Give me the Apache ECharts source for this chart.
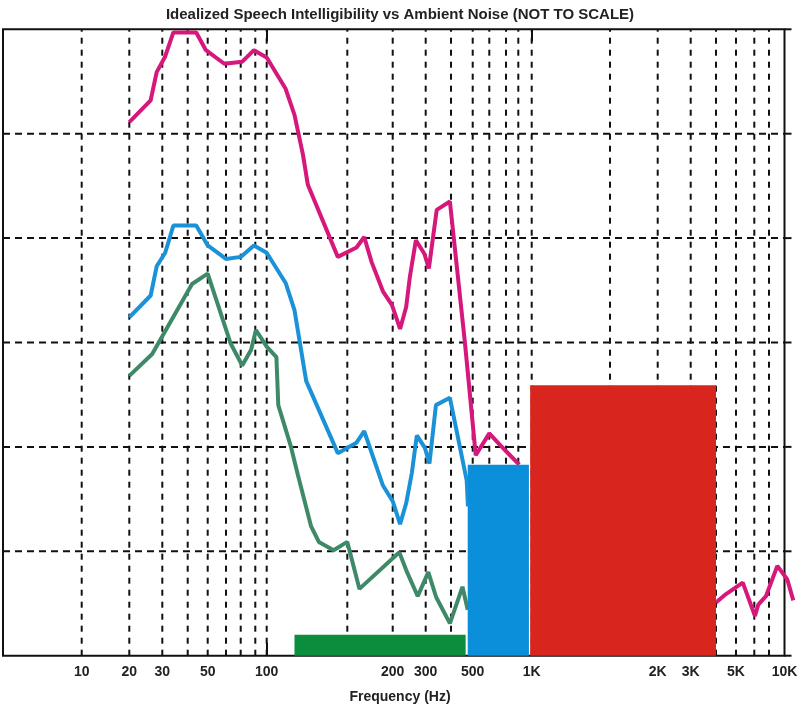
<!DOCTYPE html>
<html><head><meta charset="utf-8">
<script src="https://cdn.jsdelivr.net/npm/echarts@6/dist/echarts.min.js"></script>
<style>html,body{margin:0;padding:0;background:#fff}#c{width:800px;height:706px}</style>
</head><body><div id="c"></div>
<script>
// ---- Not-to-scale frequency axis: frequency stops and the axis units they sit at ----
const scaleFreqs = [10,20,30,40,50,60,70,80,100,150,200,300,400,500,600,700,800,1000,1500,2000,3000,4000,5000,6000,8000,10000];
const scaleUnits = [78.7,126.3,159.3,184.7,204.7,223,237.7,252.3,263.7,344.3,389.7,422.7,448,469.7,486.3,503,515.3,528.7,607,654.7,687.7,713,733,751.3,766,781.5];
const axisUnitMax = 794;      // axis continues a little past 10 kHz (frame ends at 10 kHz)
const frameEndFreq = 10000;

// ---- Grid / ticks ----
const gridFreqs = [10,20,30,40,50,60,70,80,100,150,200,300,400,500,600,700,800,1000,1500,2000,3000,4000,5000,6000,8000];
const gridLevels = [10,20,30,40,50];
const tickLevels = [0,10,20,30,40,50,60];
const tickLabelFreqs = [10,20,30,50,100,200,300,500,1000,2000,3000,5000,10000];
const tickLabels = ['10','20','30','50','100','200','300','500','1K','2K','3K','5K','10K'];
const majorTickFreqs = [100,1000];
const levelMax = 60;

// ---- Data (frequency in Hz, relative level) ----
const pinkLowFreqs = [20,26,28,31,34,44,49,59,71,79,100,110,115,120,123,143,159,167,175,188,199,219,236,247,266,295,311,340,395,462,517,600,662,731,813];
const pinkLowLevels = [51.1,53.2,55.9,57.4,59.7,59.7,58.0,56.7,56.9,58.0,57.3,54.3,51.8,48.0,45.1,38.2,39.1,40.1,37.7,34.9,33.6,31.3,33.4,36.3,39.8,38.5,37.1,42.7,43.5,29.9,19.2,21.3,20.2,19.2,18.3];
const pinkHighFreqs = [4000,4400,5350,6080,6490,7540,9020,10410,11350];
const pinkHighLevels = [5.1,5.8,7.0,3.8,4.9,5.7,8.6,7.3,5.3];

const blueFreqs = [20,26,28,31,34,44,50,60,70,79,100,110,115,122,143,159,167,188,200,219,236,253,269,297,313,337,395,470,476];
const blueLevels = [32.4,34.5,37.3,38.6,41.2,41.2,39.3,38.0,38.2,39.3,38.6,35.7,33.1,26.3,19.4,20.4,21.5,16.3,14.8,12.6,14.6,17.5,21.1,19.9,18.4,24.0,24.7,16.8,14.3];

const greenFreqs = [20,26.5,42,50,63,71,77,81,100,105,106,113,117,125,130,140,150,162,217,236,272,309,338,395,450,475];
const greenLevels = [26.8,28.9,35.6,36.6,29.9,27.8,29.3,31.2,29.6,28.6,24.0,20.0,17.3,12.4,10.9,10.1,10.9,6.4,9.9,8.2,5.7,8.0,5.6,3.1,6.6,4.4];

// Bands: start Hz, end Hz, level
const bandStarts = [115, 475, 975];
const bandEnds = [465, 955, 4000];
const bandLevels = [2.0, 18.3, 25.9];

// ---- Styles ----
const pinkColor = '#d6177b';
const blueColor = '#1b92d8';
const greenLineColor = '#3e8a68';
const bandColors = ['#0a8e3e', '#0b8fdb', '#d8251d'];
const inkColor = '#111';
const font = 'Liberation Sans, Arial, sans-serif';
const lineW = 4;

function fx(f){
  const n = scaleFreqs.length;
  let i = 0;
  if (f <= scaleFreqs[0]) i = 0;
  else if (f >= scaleFreqs[n-1]) i = n-2;
  else { while (f > scaleFreqs[i+1]) i++; }
  const t = Math.log(f/scaleFreqs[i]) / Math.log(scaleFreqs[i+1]/scaleFreqs[i]);
  return scaleUnits[i] + t*(scaleUnits[i+1]-scaleUnits[i]);
}
const pairs = (fs, ls) => fs.map((f,i)=>[fx(f), ls[i]]);
const labelUnits = tickLabelFreqs.map(fx);
function labelFor(v){
  for (let i=0;i<labelUnits.length;i++) if (Math.abs(labelUnits[i]-v) < 0.01) return tickLabels[i];
  return '';
}

const chart = echarts.init(document.getElementById('c'), null, {renderer:'canvas'});
const lineBase = {type:'line', showSymbol:false, symbol:'none', z:3, animation:false, clip:false};

chart.setOption({
  animation:false,
  backgroundColor:'#fff',
  title:{text:'Idealized Speech Intelligibility vs Ambient Noise (NOT TO SCALE)', left:'center', top:2,
    textStyle:{fontSize:15, fontWeight:'bold', color:'#222', fontFamily:font}},
  grid:{left:3, right:800-3-axisUnitMax, top:29.3, bottom:50.3, show:false, containLabel:false, outerBoundsMode:'none'},
  xAxis:[{
    type:'value', min:0, max:axisUnitMax, position:'bottom',
    axisLine:{show:false},
    axisTick:{show:true, inside:true, length:13, customValues: majorTickFreqs.map(fx), lineStyle:{color:inkColor, width:2}},
    axisLabel:{show:true, customValues: labelUnits, formatter: labelFor, fontWeight:'bold', fontSize:14, color:'#222', margin:9, fontFamily:font},
    splitLine:{show:false},
    name:'Frequency (Hz)', nameLocation:'middle', nameGap:34,
    nameTextStyle:{fontWeight:'bold', fontSize:14, color:'#222', fontFamily:font}
  },{
    type:'value', min:0, max:axisUnitMax, position:'top',
    axisLine:{show:false},
    axisTick:{show:true, inside:true, length:12, customValues: majorTickFreqs.map(fx), lineStyle:{color:inkColor, width:2}},
    axisLabel:{show:false}, splitLine:{show:false}
  }],
  yAxis:[{
    type:'value', min:0, max:levelMax, interval:10,
    axisLine:{show:false}, axisTick:{show:false}, axisLabel:{show:false}, splitLine:{show:false}
  }],
  series:[
    {
      // vertical dashed grid lines
      type:'custom', z:1, silent:true, animation:false,
      data: gridFreqs.map(f=>[fx(f)]),
      renderItem:(params, api)=>{
        const a = api.coord([api.value(0), 0]);
        const b = api.coord([api.value(0), levelMax]);
        return {type:'line', shape:{x1:a[0], y1:a[1], x2:b[0], y2:b[1]},
          style:{stroke:inkColor, lineWidth:2, lineDash:[6,6]}};
      }
    },
    {
      // frame, horizontal dashed grid lines, right ticks
      type:'custom', z:2, silent:true, animation:false,
      data: [[0]],
      renderItem:(params, api)=>{
        const endU = fx(frameEndFreq);
        const bl = api.coord([0, 0]);
        const tr = api.coord([endU, levelMax]);
        const children = [];
        gridLevels.forEach(l=>{
          const p = api.coord([0, l]);
          children.push({type:'line', shape:{x1:bl[0], y1:p[1], x2:tr[0], y2:p[1]},
            style:{stroke:inkColor, lineWidth:2, lineDash:[7,5]}});
        });
        tickLevels.forEach(l=>{
          const p = api.coord([endU, l]);
          children.push({type:'line', shape:{x1:p[0], y1:p[1], x2:p[0]+7, y2:p[1]},
            style:{stroke:inkColor, lineWidth:2}});
        });
        children.push({type:'rect', shape:{x:bl[0], y:tr[1], width:tr[0]-bl[0], height:bl[1]-tr[1]},
          style:{fill:null, stroke:inkColor, lineWidth:2}});
        return {type:'group', children};
      }
    },
    Object.assign({}, lineBase, {data: pairs(pinkLowFreqs, pinkLowLevels), lineStyle:{color:pinkColor, width:lineW}}),
    Object.assign({}, lineBase, {data: pairs(pinkHighFreqs, pinkHighLevels), lineStyle:{color:pinkColor, width:lineW}}),
    Object.assign({}, lineBase, {data: pairs(blueFreqs, blueLevels), lineStyle:{color:blueColor, width:lineW}}),
    Object.assign({}, lineBase, {data: pairs(greenFreqs, greenLevels), lineStyle:{color:greenLineColor, width:lineW}}),
    {
      type:'custom', z:4, silent:true, animation:false,
      data: bandStarts.map((s,i)=>[fx(s), fx(bandEnds[i]), bandLevels[i], i]),
      renderItem:(params, api)=>{
        const p0 = api.coord([api.value(0), api.value(2)]);
        const p1 = api.coord([api.value(1), 0]);
        return {type:'rect', shape:{x:p0[0], y:p0[1], width:p1[0]-p0[0], height:p1[1]-p0[1]},
          style:{fill: bandColors[api.value(3)]}};
      }
    }
  ]
});
</script>
</body></html>
